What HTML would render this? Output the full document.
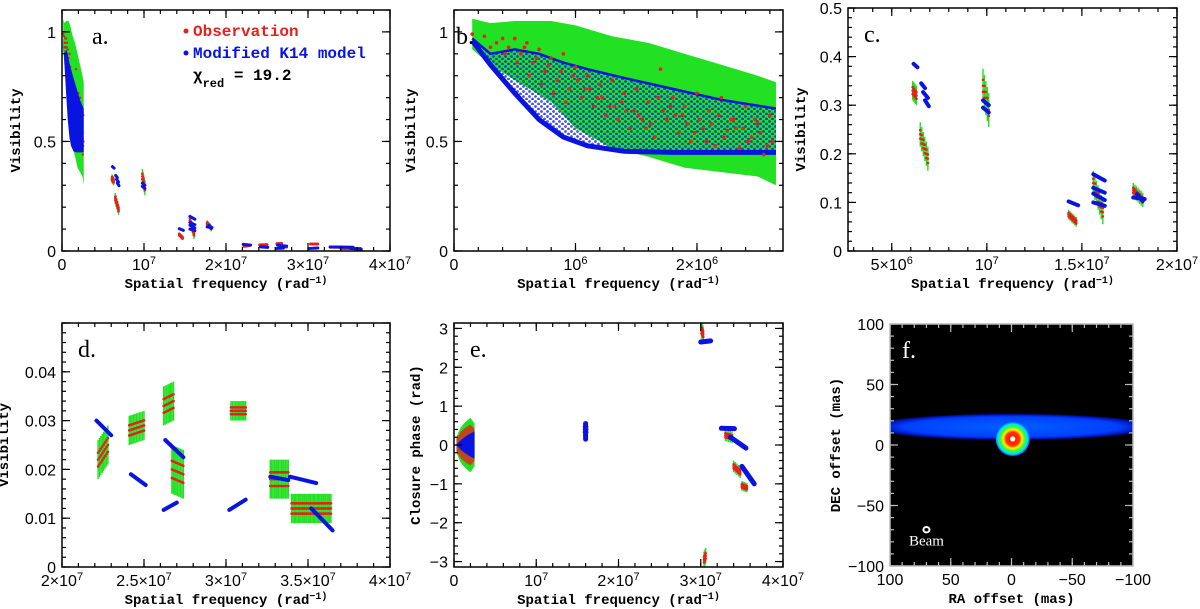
<!DOCTYPE html>
<html><head><meta charset="utf-8"><title>Visibility and closure phase panels</title>
<style>
html,body{margin:0;padding:0;background:#fff;}
svg{display:block;}
.tl{font-family:"Liberation Sans",sans-serif;font-size:16px;fill:#000;}
.at{font-family:"Liberation Mono",monospace;font-weight:bold;font-size:14px;fill:#000;}
.pl{font-family:"Liberation Serif",serif;font-size:24px;fill:#000;}
</style></head>
<body>
<svg id="fig" width="1200" height="609" viewBox="0 0 1200 609" xmlns="http://www.w3.org/2000/svg">
<defs>
<radialGradient id="bandGrad" cx="50%" cy="50%" r="50%">
<stop offset="0" stop-color="#0060ff"/><stop offset="0.75" stop-color="#0040ff"/><stop offset="0.92" stop-color="#0010b0"/><stop offset="1" stop-color="#000"/>
</radialGradient>
<radialGradient id="blobGrad" cx="50%" cy="50%" r="50%">
<stop offset="0" stop-color="#ffffff"/><stop offset="0.12" stop-color="#ffffff"/><stop offset="0.18" stop-color="#ff2000"/><stop offset="0.4" stop-color="#ff3000"/><stop offset="0.55" stop-color="#ffee00"/><stop offset="0.72" stop-color="#30ff30"/><stop offset="0.88" stop-color="#00e0ff"/><stop offset="1" stop-color="#0060ff"/>
</radialGradient>
<pattern id="blueDots" width="6" height="5" patternUnits="userSpaceOnUse">
<circle cx="1.5" cy="1.5" r="1.4" fill="#0a14e0"/><circle cx="4.5" cy="4" r="1.4" fill="#0a14e0"/>
</pattern>
</defs>
</svg>
<script>
// ---- data: visibility clusters (observation) shared by panels a, c, d ----
const obsX0=[6.1e6,6.5e6,9.8e6,14.3e6,15.6e6,17.7e6,2.22e7,2.41e7,2.62e7,2.67e7,3.03e7,3.27e7,3.40e7];
const obsX1=[6.3e6,6.9e6,10.1e6,14.7e6,16.1e6,18.2e6,2.28e7,2.50e7,2.68e7,2.74e7,3.12e7,3.38e7,3.64e7];
const obsY0=[0.33,0.24,0.34,0.075,0.14,0.125,0.022,0.028,0.033,0.020,0.032,0.018,0.012];
const obsY1=[0.32,0.19,0.29,0.060,0.08,0.105,0.025,0.029,0.034,0.019,0.032,0.018,0.012];
const obsErr=[0.02,0.025,0.035,0.01,0.025,0.015,0.004,0.003,0.004,0.005,0.002,0.004,0.003];
// model segments
const modX0=[6.15e6,6.55e6,6.65e6,6.75e6,9.8e6,9.8e6,14.3e6,15.6e6,15.6e6,15.6e6,15.6e6,17.7e6,17.9e6,2.21e7,2.42e7,2.63e7,2.62e7,3.02e7,3.27e7,3.39e7,3.52e7];
const modX1=[6.35e6,6.75e6,6.9e6,6.95e6,10.1e6,10.1e6,14.8e6,16.2e6,16.2e6,16.2e6,16.2e6,18.3e6,18.2e6,2.30e7,2.51e7,2.74e7,2.70e7,3.12e7,3.38e7,3.55e7,3.65e7];
const modY0=[0.385,0.345,0.327,0.31,0.31,0.295,0.102,0.158,0.13,0.118,0.1,0.11,0.117,0.030,0.019,0.026,0.0117,0.0117,0.0185,0.0185,0.012];
const modY1=[0.378,0.335,0.315,0.298,0.30,0.285,0.094,0.145,0.12,0.105,0.093,0.107,0.103,0.027,0.0168,0.0225,0.0132,0.0138,0.0178,0.0172,0.0075];
// low-frequency envelopes
const bandX=[0.15e6,0.3e6,0.5e6,0.8e6,1.0e6,1.3e6,1.6e6,1.9e6,2.2e6,2.5e6,2.65e6];
const bandHi=[1.06,1.04,1.05,1.05,1.03,0.98,0.95,0.9,0.85,0.8,0.77];
const bandLo=[0.92,0.85,0.78,0.68,0.56,0.47,0.43,0.38,0.36,0.34,0.3];
const lmX=[0.15e6,0.3e6,0.5e6,0.7e6,0.9e6,1.1e6,1.4e6,1.8e6,2.2e6,2.65e6];
const lmHi=[0.97,0.9,0.92,0.9,0.86,0.83,0.79,0.74,0.69,0.65];
const lmLo=[0.96,0.85,0.72,0.6,0.52,0.48,0.455,0.45,0.45,0.45];
const redX=[0.15,0.25,0.3,0.35,0.4,0.45,0.5,0.55,0.6,0.65,0.7,0.75,0.8,0.85,0.9,0.95,1.0,1.05,1.1,1.15,1.2,1.25,1.3,1.35,1.4,1.45,1.5,1.55,1.6,1.65,1.7,1.75,1.8,1.85,1.9,1.95,2.0,2.05,2.1,2.15,2.2,2.25,2.3,2.35,2.4,2.45,2.5,2.55,2.6,
 0.42,0.52,0.62,0.72,0.82,0.92,1.02,1.12,1.22,1.32,1.42,1.52,1.62,1.72,1.82,1.92,2.02,2.12,2.22,2.32,2.42,2.52,2.62,
 0.58,0.68,0.78,0.88,0.98,1.08,1.18,1.28,1.38,1.48,1.58,1.68,1.78,1.88,1.98,2.08,2.18,2.28,2.38,2.48,2.58];
const redY=[0.99,0.98,0.93,0.95,0.97,0.93,0.97,0.9,0.95,0.86,0.92,0.82,0.88,0.78,0.9,0.74,0.84,0.7,0.8,0.66,0.76,0.62,0.78,0.6,0.72,0.56,0.74,0.6,0.68,0.52,0.83,0.6,0.7,0.54,0.66,0.5,0.72,0.56,0.64,0.48,0.7,0.55,0.6,0.47,0.66,0.52,0.58,0.44,0.62,
 0.9,0.86,0.8,0.76,0.72,0.68,0.78,0.74,0.7,0.66,0.64,0.62,0.58,0.64,0.62,0.58,0.6,0.58,0.52,0.56,0.5,0.54,0.5,
 0.93,0.88,0.85,0.82,0.8,0.74,0.7,0.66,0.68,0.64,0.56,0.7,0.66,0.62,0.54,0.5,0.62,0.6,0.56,0.6,0.48];
// closure phase
const cpX0=[1.58e7,3.01e7,3.04e7,3.30e7,3.40e7,3.50e7];
const cpX1=[1.62e7,3.03e7,3.06e7,3.38e7,3.48e7,3.56e7];
const cpY0=[0.4,2.95,-2.95,0.25,-0.55,-1.05];
const cpY1=[0.4,2.85,-2.85,0.2,-0.7,-1.1];
const cpErr=[0.2,0.2,0.2,0.15,0.15,0.12];
const cmX0=[1.6e7,3.0e7,3.25e7,3.36e7,3.5e7];
const cmX1=[1.6e7,3.12e7,3.41e7,3.55e7,3.65e7];
const cmY0=[0.55,2.65,0.43,0.2,-0.55];
const cmY1=[0.15,2.68,0.42,-0.08,-1.0];
const cpLowX=[0.3e6,0.8e6,1.4e6,2.0e6,2.5e6];
const cpLowObs=[0.2,0.45,0.6,0.7,0.55];
const cpLowMod=[0.02,0.12,0.22,0.3,0.35];

const NS='http://www.w3.org/2000/svg';
const svg=document.getElementById('fig');
function el(tag,parent){const e=document.createElementNS(NS,tag);parent.appendChild(e);return e;}
function set(e,o){for(const k in o)e.setAttribute(k,o[k]);return e;}
function lerp(a,b,t){return a+(b-a)*t;}

function panel(p){
  const g=el('g',svg);
  
  
  p.g=g;
  p.sx=v=>p.x0+(v-p.xmin)/(p.xmax-p.xmin)*(p.x1-p.x0);
  p.sy=v=>p.y1-(v-p.ymin)/(p.ymax-p.ymin)*(p.y1-p.y0);
  const cp=el('clipPath',g);set(cp,{id:'clip-'+p.name});
  const r=el('rect',cp);set(r,{x:p.x0,y:p.y0,width:p.x1-p.x0,height:p.y1-p.y0});
  p.plot=el('g',g);set(p.plot,{'clip-path':'url(#clip-'+p.name+')'});
  
  
  return p;
}
function labelText(t,s,supSize){
  const parts=s.split('^');
  t.appendChild(document.createTextNode(parts[0]));
  if(parts[1]!==undefined){const ts=el('tspan',t);set(ts,{'baseline-shift':'super','font-size':supSize});ts.textContent=parts[1];}
}
function axes(p){
  const g=p.g,col=p.tick||'#000';
  const fr=el('rect',g);set(fr,{x:p.x0,y:p.y0,width:p.x1-p.x0,height:p.y1-p.y0,fill:'none',stroke:col,'stroke-width':1.5});
  
  
  const xlo=Math.min(p.xmin,p.xmax),xhi=Math.max(p.xmin,p.xmax);
  function ticksX(step,len){for(let k=Math.ceil(xlo/step-1e-6);k*step<=xhi+1e-9;k++){const x=p.sx(k*step);
    const a=el('line',g);set(a,{x1:x,x2:x,y1:p.y1,y2:p.y1-len,stroke:col,'stroke-width':1.2});
    const b=el('line',g);set(b,{x1:x,x2:x,y1:p.y0,y2:p.y0+len,stroke:col,'stroke-width':1.2});}}
  function ticksY(step,len){for(let k=Math.ceil(p.ymin/step-1e-6);k*step<=p.ymax+1e-9;k++){const y=p.sy(k*step);
    const a=el('line',g);set(a,{x1:p.x0,x2:p.x0+len,y1:y,y2:y,stroke:col,'stroke-width':1.2});
    const b=el('line',g);set(b,{x1:p.x1,x2:p.x1-len,y1:y,y2:y,stroke:col,'stroke-width':1.2});}}
  ticksX(p.xMinor,4);ticksX(p.xMajor,8);ticksY(p.yMinor,4);ticksY(p.yMajor,8);
  p.xLabV.forEach((v,i)=>{const t=el('text',g);set(t,{x:p.sx(v),y:p.y1+19,'text-anchor':'middle',class:'tl'});labelText(t,p.xLabS[i],'11px');
    
    });
  p.yLabV.forEach((v,i)=>{const t=el('text',g);set(t,{x:p.x0-6,y:p.sy(v)+6,'text-anchor':'end',class:'tl'});t.textContent=p.yLabS[i];
    
    });
  const xt=el('text',g);set(xt,{x:(p.x0+p.x1)/2,y:p.y1+37,'text-anchor':'middle',class:'at'});labelText(xt,p.xTitle,'10px');
  
  
  const yt=el('text',g);const cx=p.x0-p.yOff,cy=(p.y0+p.y1)/2;
  set(yt,{x:cx,y:cy,'text-anchor':'middle',class:'at',transform:'rotate(-90 '+cx+' '+cy+')'});yt.textContent=p.yTitle;
  
  
  const pl=el('text',g);set(pl,{x:p.x0+p.lx,y:p.y0+34,class:'pl'});pl.textContent=p.letter;
  if(p.lcol)pl.style.fill=p.lcol;
  
  
}
function obsClusters(p,X0,X1,Y0,Y1,E){
  for(let c=0;c<X0.length;c++){
    const px0=p.sx(X0[c]),px1=p.sx(X1[c]);const n=Math.max(5,Math.round(Math.abs(px1-px0)/1.3));
    const g=el('g',p.plot);
    
    
    for(let i=0;i<n;i++){const t=i/(n-1);const x=lerp(X0[c],X1[c],t),y=lerp(Y0[c],Y1[c],t);
      const l=el('line',g);set(l,{x1:p.sx(x),x2:p.sx(x),y1:p.sy(y+E[c]),y2:p.sy(y-E[c]),stroke:'#22e022','stroke-width':1.4});}
    for(let i=0;i<n;i++){const t=i/(n-1);const x=lerp(X0[c],X1[c],t),yc=lerp(Y0[c],Y1[c],t);
      [-0.35,0,0.35].forEach((o,j)=>{const y=yc+o*E[c]*(i%2?1:-1)*(j===1?1:1);
        const d=el('circle',g);set(d,{cx:p.sx(x),cy:p.sy(y),r:1.3,fill:'#e8201a'});});}
  }
}
function modSegs(p,X0,X1,Y0,Y1,w){
  for(let c=0;c<X0.length;c++){const l=el('line',p.plot);
    set(l,{x1:p.sx(X0[c]),x2:p.sx(X1[c]),y1:p.sy(Y0[c]),y2:p.sy(Y1[c]),stroke:'#0a14e0','stroke-width':w||4,'stroke-linecap':'round'});
    
    }
}
function band(p,X,Hi,Lo,fill,op,name){
  const pts=X.map((x,i)=>p.sx(x)+','+p.sy(Hi[i])).concat(X.map((x,i)=>p.sx(x)+','+p.sy(Lo[i])).reverse());
  const pg=el('polygon',p.plot);set(pg,{points:pts.join(' '),fill:fill,opacity:op});
  
  
  return pg;
}
function curve(p,X,Y,w,name){
  const pl=el('polyline',p.plot);set(pl,{points:X.map((x,i)=>p.sx(x)+','+p.sy(Y[i])).join(' '),fill:'none',stroke:'#0a14e0','stroke-width':w});
  
  
}
function redDots(p,r){
  redX.forEach((x,i)=>{const X=x*1e6;
    const d=el('circle',p.plot);set(d,{cx:p.sx(X),cy:p.sy(redY[i]),r:r,fill:'#e8201a'});
    
    });
}
const SF='Spatial frequency (rad^−1)';

// Panel a
const A=panel({name:'panel-a',x0:62,x1:390,y0:10,y1:251,xmin:0,xmax:4e7,ymin:0,ymax:1.1,xMajor:1e7,xMinor:2e6,yMajor:0.5,yMinor:0.1,
 xLabV:[0,1e7,2e7,3e7,4e7],xLabS:['0','10^7','2×10^7','3×10^7','4×10^7'],yLabV:[0,0.5,1],yLabS:['0','0.5','1'],xTitle:SF,yTitle:'Visibility',yOff:42,letter:'a.',lx:30});
band(A,bandX,bandHi,bandLo,'#22e022',1,'observation-band');
redDots(A,1.2);
band(A,lmX,lmHi,lmLo,'#0a14e0',1,'model-band');
obsClusters(A,obsX0,obsX1,obsY0,obsY1,obsErr);
modSegs(A,modX0,modX1,modY0,modY1,3);
axes(A);
(function(){const g=el('g',svg);
 const d1=el('circle',g);set(d1,{cx:186,cy:31,r:2.5,fill:'#e8201a'});
 const t1=el('text',g);set(t1,{x:193,y:36,class:'at'});t1.style.fontSize='16px';t1.style.fill='#e8201a';t1.textContent='Observation';
 
 const d2=el('circle',g);set(d2,{cx:186,cy:53,r:2.5,fill:'#0a14e0'});
 const t2=el('text',g);set(t2,{x:193,y:58,class:'at'});t2.style.fontSize='16px';t2.style.fill='#0a14e0';t2.textContent='Modified K14 model';
 
 const t3=el('text',g);set(t3,{x:193,y:80,class:'at'});t3.style.fontSize='16px';
 t3.appendChild(document.createTextNode('χ'));const s=el('tspan',t3);set(s,{'baseline-shift':'sub','font-size':'12px'});s.textContent='red';
 const s2=el('tspan',t3);s2.textContent=' = 19.2';
 
})();

// Panel b
const B=panel({name:'panel-b',x0:454,x1:783,y0:10,y1:251,xmin:0,xmax:2.708e6,ymin:0,ymax:1.1,xMajor:1e6,xMinor:2e5,yMajor:0.5,yMinor:0.1,
 xLabV:[0,1e6,2e6],xLabS:['0','10^6','2×10^6'],yLabV:[0,0.5,1],yLabS:['0','0.5','1'],xTitle:SF,yTitle:'Visibility',yOff:39,letter:'b.',lx:2});
band(B,bandX,bandHi,bandLo,'#22e022',1,'observation-band');
band(B,lmX,lmHi,lmLo,'url(#blueDots)',0.75,'model-band');
curve(B,lmX,lmLo,5,'model-lower-envelope');
curve(B,lmX,lmHi,2.5,'model-upper-envelope');
redDots(B,1.8);
axes(B);

// Panel c
const C=panel({name:'panel-c',x0:848,x1:1177,y0:8,y1:251,xmin:2.7e6,xmax:2e7,ymin:0,ymax:0.5,xMajor:5e6,xMinor:1e6,yMajor:0.1,yMinor:0.02,
 xLabV:[5e6,1e7,1.5e7,2e7],xLabS:['5×10^6','10^7','1.5×10^7','2×10^7'],yLabV:[0,0.1,0.2,0.3,0.4,0.5],yLabS:['0','0.1','0.2','0.3','0.4','0.5'],xTitle:SF,yTitle:'Visibility',yOff:43,letter:'c.',lx:16});
obsClusters(C,obsX0,obsX1,obsY0,obsY1,obsErr);
modSegs(C,modX0,modX1,modY0,modY1,4);
axes(C);

// Panel d
const D=panel({name:'panel-d',x0:62,x1:390,y0:323,y1:567,xmin:2e7,xmax:4e7,ymin:0,ymax:0.05,xMajor:5e6,xMinor:1e6,yMajor:0.01,yMinor:0.002,
 xLabV:[2e7,2.5e7,3e7,3.5e7,4e7],xLabS:['2×10^7','2.5×10^7','3×10^7','3.5×10^7','4×10^7'],yLabV:[0,0.01,0.02,0.03,0.04],yLabS:['0','0.01','0.02','0.03','0.04'],xTitle:SF,yTitle:'Visibility',yOff:54,letter:'d.',lx:16});
obsClusters(D,obsX0,obsX1,obsY0,obsY1,obsErr);
modSegs(D,modX0,modX1,modY0,modY1,4);
axes(D);

// Panel e
const E=panel({name:'panel-e',x0:454,x1:783,y0:323,y1:567,xmin:0,xmax:4e7,ymin:-3.14,ymax:3.14,xMajor:1e7,xMinor:2e6,yMajor:1,yMinor:0.2,
 xLabV:[0,1e7,2e7,3e7,4e7],xLabS:['0','10^7','2×10^7','3×10^7','4×10^7'],yLabV:[-3,-2,-1,0,1,2,3],yLabS:['−3','−2','−1','0','1','2','3'],xTitle:SF,yTitle:'Closure phase (rad)',yOff:34,letter:'e.',lx:16});
band(E,cpLowX,cpLowObs,cpLowObs.map(v=>-v),'#22e022',1,'observation-band');
band(E,cpLowX,cpLowObs.map(v=>v*0.75),cpLowObs.map(v=>-v*0.75),'#e8201a',0.8,'observation-core');
band(E,cpLowX,cpLowMod,cpLowMod.map(v=>-v),'#0a14e0',1,'model-band');
obsClusters(E,cpX0,cpX1,cpY0,cpY1,cpErr);
modSegs(E,cmX0,cmX1,cmY0,cmY1,5);
axes(E);

// Panel f
const F=panel({name:'panel-f',x0:890,x1:1133,y0:324,y1:566,xmin:100,xmax:-100,ymin:-100,ymax:100,xMajor:50,xMinor:10,yMajor:50,yMinor:10,
 xLabV:[100,50,0,-50,-100],xLabS:['100','50','0','−50','−100'],yLabV:[-100,-50,0,50,100],yLabS:['−100','−50','0','50','100'],xTitle:'RA offset (mas)',yTitle:'DEC offset (mas)',yOff:50,letter:'f.',lx:12,tick:'#bbb',lcol:'#fff'});
(function(){
 const bg=el('rect',F.plot);set(bg,{x:F.x0,y:F.y0,width:F.x1-F.x0,height:F.y1-F.y0,fill:'#000'});
 
 const sc=(F.x1-F.x0)/200;
 const bd=el('ellipse',F.plot);set(bd,{cx:F.sx(0),cy:F.sy(15),rx:118*sc,ry:11*sc,fill:'url(#bandGrad)'});
 
 const bl=el('ellipse',F.plot);set(bl,{cx:F.sx(-1),cy:F.sy(5),rx:14*sc,ry:14*sc,fill:'url(#blobGrad)'});
 
 const bm=el('ellipse',F.plot);set(bm,{cx:F.sx(70),cy:F.sy(-70),rx:2.5*sc,ry:2.2*sc,fill:'none',stroke:'#fff','stroke-width':2});
 
 const bt=el('text',F.plot);set(bt,{x:F.sx(70),y:F.sy(-83),'text-anchor':'middle','font-family':'Liberation Serif, serif','font-size':'15px',fill:'#fff'});bt.textContent='Beam';
 
})();
axes(F);
</script>
</body></html>
